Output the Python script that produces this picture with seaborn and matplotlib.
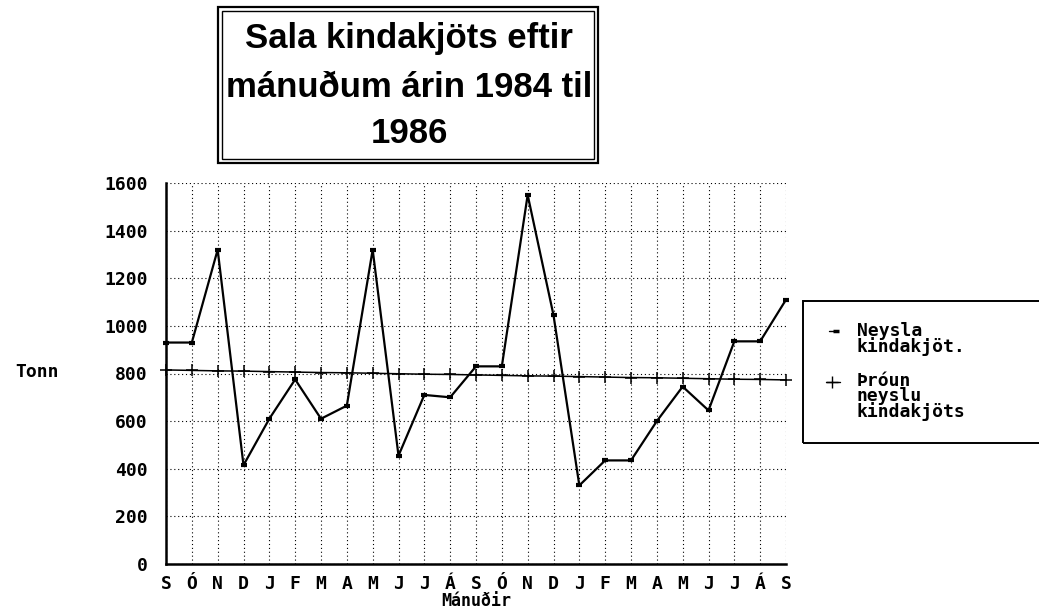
import matplotlib
matplotlib.use("Agg")
import matplotlib.pyplot as plt
from matplotlib.patches import Rectangle
from matplotlib.lines import Line2D
import numpy as np
import pandas as pd
import seaborn as sns

# ======================
# DATA
# ======================
months = ["S", "Ó", "N", "D", "J", "F", "M", "A", "M", "J", "J", "Á",
          "S", "Ó", "N", "D", "J", "F", "M", "A", "M", "J", "J", "Á", "S"]
neysla = [930, 930, 1320, 415, 610, 775, 610, 665, 1320, 455, 710, 700,
          830, 830, 1550, 1045, 330, 435, 435, 600, 745, 645, 935, 935, 1110]
throun = [815, 813, 811, 810, 808, 806, 804, 803, 801, 799, 797, 796,
          794, 792, 790, 789, 787, 785, 783, 782, 780, 778, 776, 775, 773]
y_ticks = [0, 200, 400, 600, 800, 1000, 1200, 1400, 1600]

title_lines = ["Sala kindakjöts eftir", "mánuðum árin 1984 til", "1986"]
legend_labels = ["Neysla\nkindakjöt.", "Þróun\nneyslu\nkindakjöts"]

df = pd.DataFrame({"idx": np.arange(len(months)), "neysla": neysla, "throun": throun})

# ======================
# STYLE
# ======================
sns.set_style("white")
plt.rcParams["font.family"] = ["DejaVu Sans Mono", "DejaVu Sans"]
plt.rcParams["font.weight"] = "bold"
plt.rcParams["text.color"] = "black"
plt.rcParams["axes.labelcolor"] = "black"
plt.rcParams["xtick.color"] = "black"
plt.rcParams["ytick.color"] = "black"

W, H = 1039, 611


def fx(x):
    return x / W


def fy(y):
    return 1 - y / H


fig = plt.figure(figsize=(W / 100, H / 100), dpi=100)
fig.patch.set_facecolor("white")
ax = fig.add_axes([fx(166), fy(564), 620 / W, 381 / H])

# ======================
# LINES
# ======================
sns.lineplot(data=df, x="idx", y="throun", ax=ax, color="black", linewidth=1.1,
             marker="+", markersize=8, markeredgewidth=1.1, markeredgecolor="black",
             legend=False, clip_on=False)
sns.lineplot(data=df, x="idx", y="neysla", ax=ax, color="black", linewidth=1.6,
             marker="_", markersize=5, markeredgewidth=3, markeredgecolor="black",
             legend=False, clip_on=False)

# ======================
# AXES
# ======================
ax.set_xlim(0, len(months) - 1)
ax.set_ylim(0, 1600)
ax.set_xticks(range(len(months)))
ax.set_xticklabels(months)
ax.set_yticks(y_ticks)
ax.set_yticks(range(0, 1601, 40), minor=True)
ax.grid(True, which="major", color="black", linestyle=(0, (1, 2.5)), linewidth=0.8)
ax.set_axisbelow(True)

for side in ["top", "right"]:
    ax.spines[side].set_visible(False)
for side in ["left", "bottom"]:
    ax.spines[side].set_color("black")
    ax.spines[side].set_linewidth(1.8)

ax.tick_params(axis="both", which="both", direction="inout", color="black", width=1.3)
ax.tick_params(axis="both", which="major", length=10, labelsize=13)
ax.tick_params(axis="y", which="minor", length=8)
ax.tick_params(axis="x", pad=3)
ax.tick_params(axis="y", pad=8)

ax.set_xlabel("Mánuðir", fontsize=12, fontweight="bold")
ax.xaxis.set_label_coords(0.5, (564 - 601) / 381)
ax.xaxis.label.set_va("center")
ax.set_ylabel("Tonn", fontsize=13, fontweight="bold", rotation=0, ha="center", va="center")
ax.yaxis.set_label_coords((37 - 166) / 620, (564 - 372) / 381)

# ======================
# TITLE BOX
# ======================
fig.patches.append(Rectangle((fx(218), fy(163)), fx(598) - fx(218), fy(7) - fy(163),
                             transform=fig.transFigure, fill=False, edgecolor="black", linewidth=1.6))
fig.patches.append(Rectangle((fx(222), fy(159)), fx(594) - fx(222), fy(11) - fy(159),
                             transform=fig.transFigure, fill=False, edgecolor="black", linewidth=1.0))
for line, base in zip(title_lines, [48, 97, 143]):
    fig.text(fx(409), fy(base), line, ha="center", va="baseline", fontsize=25,
             fontweight="bold", color="black", family=["Liberation Sans", "DejaVu Sans"])

# ======================
# LEGEND BOX
# ======================
fig.patches.append(Rectangle((fx(803), fy(443)), fx(1060) - fx(803), fy(301) - fy(443),
                             transform=fig.transFigure, fill=False, edgecolor="black", linewidth=1.4))
fig.lines.append(Line2D([fx(829), fx(836)], [fy(331), fy(331)], transform=fig.transFigure,
                        color="black", linewidth=1.0, marker="_", markersize=4,
                        markeredgewidth=2.5, markevery=[1]))
fig.lines.append(Line2D([fx(826), fx(832), fx(840)], [fy(382), fy(382), fy(382)],
                        transform=fig.transFigure, color="black", linewidth=1.0,
                        marker="+", markersize=8, markeredgewidth=1.0, markevery=[1]))
for label, top in zip(legend_labels, [322, 372]):
    fig.text(fx(857), fy(top), label, ha="left", va="top", fontsize=13,
             fontweight="bold", color="black", linespacing=0.8)

fig.savefig("out.png", dpi=100, facecolor="white")
